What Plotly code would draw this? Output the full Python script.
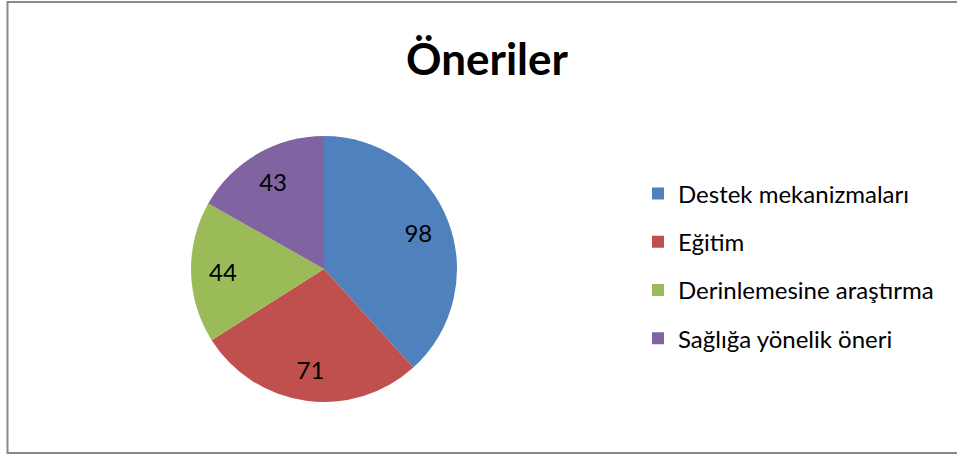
import plotly.graph_objects as go

categories = ["Destek mekanizmaları", "Eğitim", "Derinlemesine araştırma", "Sağlığa yönelik öneri"]
values = [98, 71, 44, 43]
colors = ["#4F81BD", "#C0504D", "#9BBB59", "#8064A2"]
title_text = "Öneriler"

W, H = 957, 457
cx, cy, r = 324, 269, 133
dom = dict(x=[(cx - r) / W, (cx + r) / W], y=[(H - cy - r) / H, (H - cy + r) / H])

fig = go.Figure()
# coloured slices
fig.add_trace(go.Pie(
    labels=categories, values=values, sort=False, direction="clockwise", rotation=0,
    marker=dict(colors=colors, line=dict(width=0)),
    textinfo="none", showlegend=False, hoverinfo="label+value", domain=dom,
))
# value labels placed in the outer ring (transparent donut)
fig.add_trace(go.Pie(
    labels=categories, values=values, sort=False, direction="clockwise", rotation=0,
    hole=0.52,
    marker=dict(colors=["rgba(0,0,0,0)"] * len(values), line=dict(width=0)),
    texttemplate="%{value}", textposition="inside", insidetextorientation="horizontal",
    textfont=dict(family="Lato", size=24, color="black"),
    showlegend=False, hoverinfo="skip", domain=dom,
))
# legend entries
for cat, col in zip(categories, colors):
    fig.add_trace(go.Scatter(
        x=[None], y=[None], mode="markers", name=cat,
        marker=dict(symbol="square", size=12, color=col), legendgroup=cat,
    ))

fig.update_layout(
    width=W, height=H,
    margin=dict(l=0, r=0, t=0, b=0),
    paper_bgcolor="white",
    plot_bgcolor="white",
    xaxis=dict(visible=False), yaxis=dict(visible=False),
    title=dict(text="<b>" + title_text + "</b>", x=487 / W, xanchor="center", y=1 - 60 / H, yanchor="middle",
               font=dict(family="Lato", size=44, color="black")),
    showlegend=True,
    legend=dict(x=638 / W, xanchor="left", y=1 - 266 / H, yanchor="middle",
                font=dict(family="Lato", size=24, color="black"),
                tracegroupgap=14, itemwidth=30, bgcolor="rgba(0,0,0,0)"),
    shapes=[dict(type="rect", xref="paper", yref="paper", x0=7.5 / W, x1=1.01, y0=1 - 453 / H, y1=1 - 2 / H,
                 line=dict(color="#898989", width=2))],
)

fig.write_html("out.html", config={"displayModeBar": False},
               post_script="document.body.style.margin='0';document.body.style.overflow='hidden';")
